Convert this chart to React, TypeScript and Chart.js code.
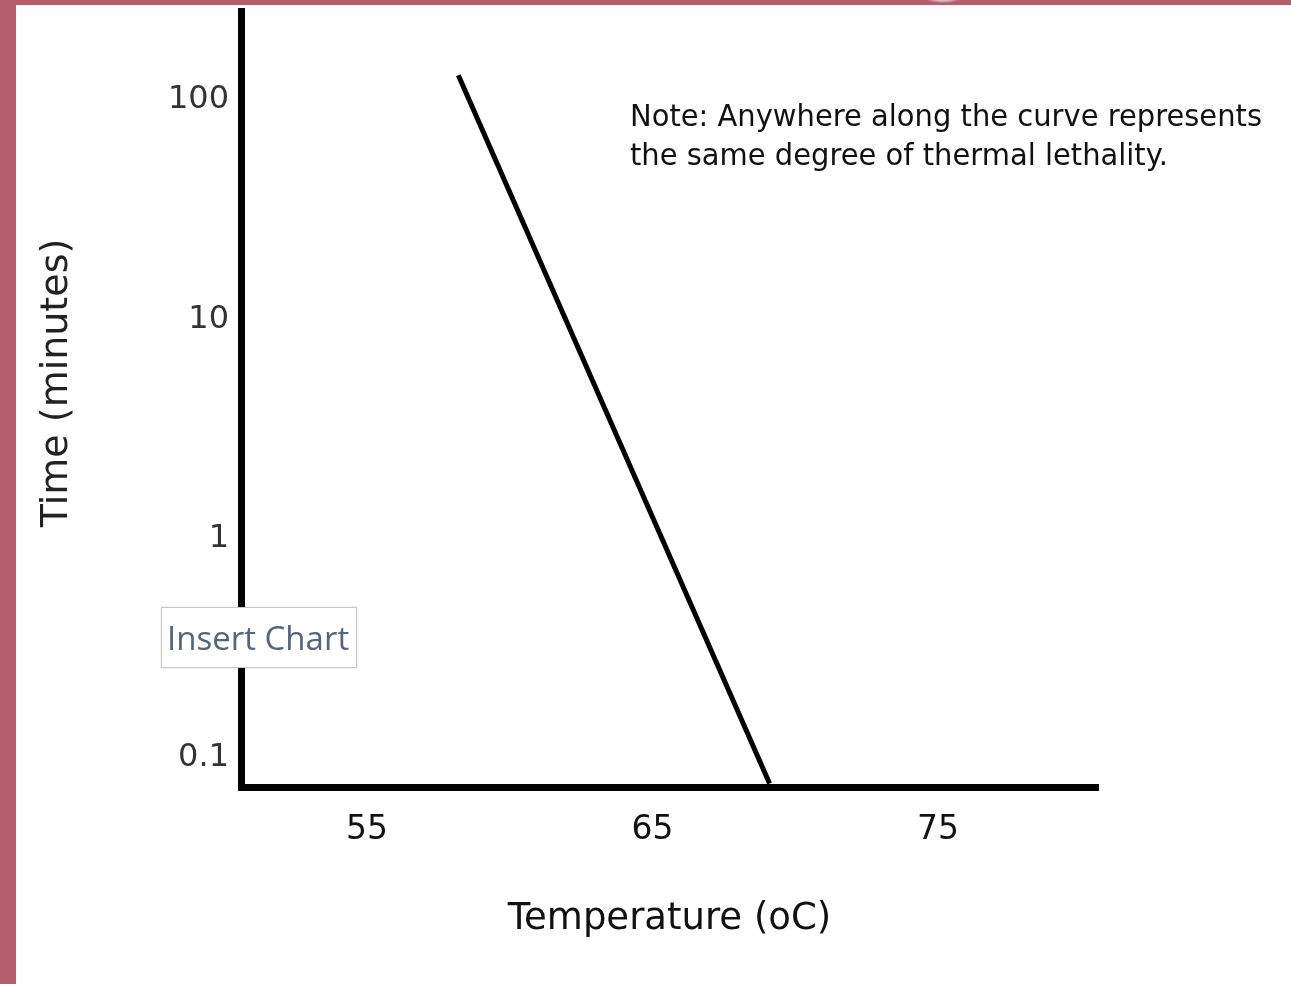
import React, { useEffect, useRef } from "react";
import { Chart, registerables } from "chart.js";

Chart.register(...registerables);

// Data (thermal death time curve)
const temperatures: number[] = [58.2, 69.1];
const times: number[] = [130, 0.0765];
const xTickValues: number[] = [55, 65, 75];
const yTickValues: number[] = [0.1, 1, 10, 100];
const xTitle = "Temperature (oC)";
const yTitle = "Time (minutes)";
const noteLines: string[] = [
  "Note: Anywhere along the curve represents",
  "the same degree of thermal lethality.",
];

const textPlugin = {
  id: "textPlugin",
  afterDraw(chart: any) {
    const ctx = chart.ctx as CanvasRenderingContext2D;
    ctx.save();
    ctx.fillStyle = "#111";
    ctx.font = "30px 'DejaVu Sans'";
    ctx.textBaseline = "middle";
    ctx.textAlign = "left";
    const w = ctx.measureText(noteLines[0]).width;
    const sx = 632 / w;
    const x0 = 614;
    noteLines.forEach((line, i) => {
      ctx.save();
      ctx.translate(x0, 113 + i * 39);
      ctx.scale(sx, 1);
      ctx.fillText(line, 0, 0);
      ctx.restore();
    });
    // y axis title
    ctx.save();
    ctx.fillStyle = "#222";
    ctx.font = "38px 'DejaVu Sans'";
    ctx.textAlign = "center";
    ctx.textBaseline = "middle";
    ctx.translate(41, 378);
    ctx.rotate(-Math.PI / 2);
    ctx.fillText(yTitle, 0, 0);
    ctx.restore();
    ctx.restore();
  },
};

export default function App() {
  const canvasRef = useRef<HTMLCanvasElement | null>(null);

  useEffect(() => {
    if (!canvasRef.current) return;
    const chart = new Chart(canvasRef.current, {
      type: "line",
      data: {
        datasets: [
          {
            data: temperatures.map((t, i) => ({ x: t, y: times[i] })),
            borderColor: "#000",
            borderWidth: 5,
            pointRadius: 0,
            fill: false,
            tension: 0,
          },
        ],
      },
      options: {
        animation: false,
        responsive: false,
        events: [],
        layout: { padding: { top: 6, right: 193, left: 0, bottom: 0 } },
        plugins: {
          legend: { display: false },
          tooltip: { enabled: false },
        },
        scales: {
          x: {
            type: "linear",
            min: 50.59,
            max: 80.6,
            grid: { display: false, drawTicks: false },
            border: { display: true, color: "#000", width: 7 },
            afterBuildTicks: (scale: any) => {
              scale.ticks = xTickValues.map((v) => ({ value: v }));
            },
            afterFit: (scale: any) => {
              scale.height = 197;
              scale.paddingLeft = 0;
              scale.paddingRight = 0;
            },
            ticks: {
              color: "#111",
              font: { family: "'DejaVu Sans'", size: 33 },
              padding: 24,
              maxRotation: 0,
              autoSkip: false,
              callback: (v: any) => String(v),
            },
            title: {
              display: true,
              text: xTitle,
              color: "#111",
              font: { family: "'DejaVu Sans'", size: 37 },
              padding: { top: 0, bottom: 42 },
            },
          },
          y: {
            type: "logarithmic",
            min: 0.0738,
            max: 255,
            grid: { display: false, drawTicks: false },
            border: { display: true, color: "#000", width: 7 },
            afterBuildTicks: (scale: any) => {
              scale.ticks = yTickValues.map((v) => ({ value: v }));
            },
            afterFit: (scale: any) => {
              scale.width = 225;
              scale.paddingTop = 0;
              scale.paddingBottom = 0;
            },
            ticks: {
              color: "#333",
              font: { family: "'DejaVu Sans'", size: 32 },
              padding: 12,
              autoSkip: false,
              callback: (v: any) => String(v),
            },
            title: { display: false },
          },
        },
      },
      plugins: [textPlugin],
    } as any);
    return () => chart.destroy();
  }, []);

  return (
    <div
      style={{
        position: "fixed",
        left: 0,
        top: 0,
        width: 1291,
        height: 984,
        background: "#b45d6d",
        overflow: "hidden",
      }}
    >
      <div
        style={{
          position: "absolute",
          left: 923,
          top: -12,
          width: 40,
          height: 15,
          borderRadius: "50%",
          background:
            "radial-gradient(ellipse at center, rgba(255,255,255,0.95) 30%, rgba(255,255,255,0) 75%)",
        }}
      />
      <div
        style={{
          position: "absolute",
          left: 16,
          top: 5,
          width: 1275,
          height: 979,
          background: "#fff",
        }}
      >
        <canvas ref={canvasRef} width={1275} height={979} style={{ display: "block" }} />
        <div
          style={{
            position: "absolute",
            left: 145,
            top: 602,
            width: 196,
            height: 61,
            boxSizing: "border-box",
            background: "#fff",
            border: "1px solid #c8c8c8",
            boxShadow: "0 0 2px rgba(0,0,0,0.15)",
            color: "#56657a",
            fontFamily: "'Open Sans', sans-serif",
            fontSize: 33,
            lineHeight: "59px",
            paddingLeft: 5,
            whiteSpace: "nowrap",
            overflow: "hidden",
          }}
        >
          Insert Chart
        </div>
      </div>
    </div>
  );
}
